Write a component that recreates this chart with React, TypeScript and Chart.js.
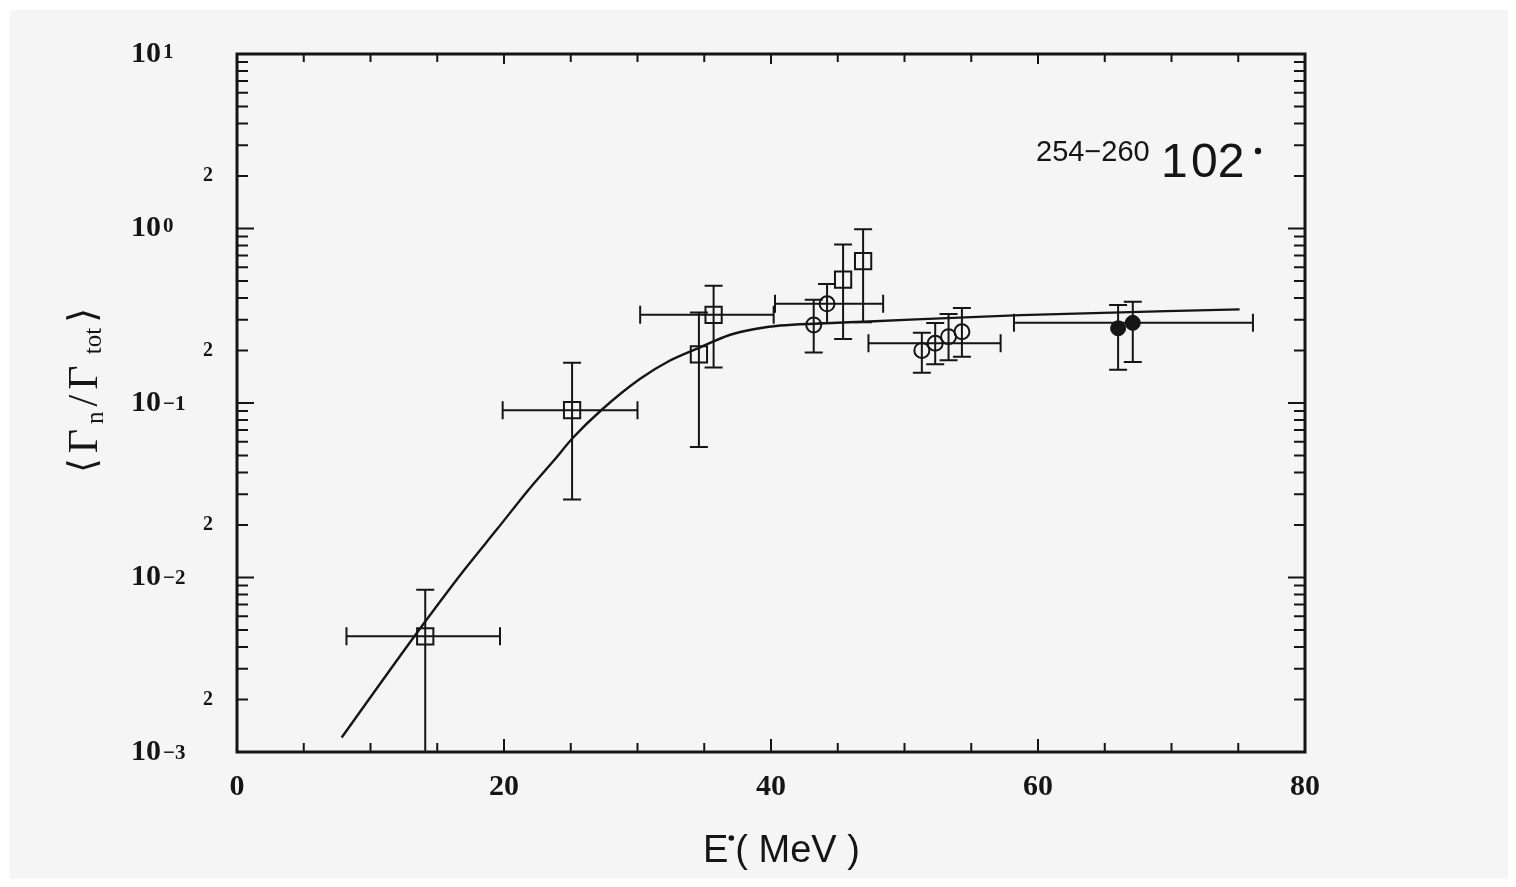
import React, { useEffect, useRef } from 'react';
import { Chart, registerables } from 'chart.js';

Chart.register(...registerables);

// ---------- data ----------
const X_MIN = 0;
const X_MAX = 80;
const Y_MIN = 0.001;
const Y_MAX = 10;

const xTickValues = [0, 20, 40, 60, 80];
const xTickLabels = ['0', '20', '40', '60', '80'];
const xMinorStep = 5;
const yDecadeExps = [-3, -2, -1, 0, 1];
const yDecadeLabels = ['\u22123', '\u22122', '\u22121', '0', '1'];
const yTwoValues = [0.002, 0.02, 0.2, 2];
const yTwoLabels = ['2', '2', '2', '2'];

// open squares
const sqX = [14.1, 25.1, 34.6, 35.7, 45.4, 46.9];
const sqY = [0.0046, 0.091, 0.19, 0.32, 0.51, 0.65];
const sqYLo = [0.001, 0.028, 0.056, 0.16, 0.233, 0.29];
const sqYHi = [0.0085, 0.17, 0.33, 0.47, 0.81, 0.99];
const sqXLo = [8.2, 19.9, null, 30.2, null, null];
const sqXHi = [19.7, 30.0, null, 40.2, null, null];

// open circles
const ocX = [43.2, 44.2, 51.3, 52.3, 53.3, 54.3];
const ocY = [0.28, 0.37, 0.2, 0.22, 0.24, 0.256];
const ocYLo = [0.195, 0.287, 0.149, 0.167, 0.176, 0.184];
const ocYHi = [0.39, 0.48, 0.253, 0.287, 0.324, 0.35];
const ocXLo = [null, 40.3, null, 47.3, null, null];
const ocXHi = [null, 48.4, null, 57.2, null, null];

// filled circles
const fcX = [66.0, 67.1];
const fcY = [0.268, 0.288];
const fcYLo = [0.155, 0.172];
const fcYHi = [0.364, 0.381];
const fcXLo = [null, 58.2];
const fcXHi = [null, 76.1];

// fitted curve
const curveX = [7.84, 13.1, 17.0, 19.5, 21.95, 23.7, 25.2, 27.3, 30.2, 32.4, 34.7, 36.9, 38.8, 40.7, 43.7, 46.9, 58.7, 75.1];
const curveY = [0.00121, 0.0044, 0.011, 0.019, 0.0326, 0.0465, 0.0636, 0.0912, 0.1376, 0.1746, 0.2085, 0.2453, 0.2655, 0.278, 0.2856, 0.2924, 0.319, 0.344];

const INK = '#151515';

const toPts = (xs: number[], ys: number[]) => xs.map((x, i) => ({ x, y: ys[i] }));

const bgPlugin = {
  id: 'bg',
  beforeDraw(chart: any) {
    const { ctx, width, height } = chart;
    ctx.save();
    ctx.fillStyle = '#ffffff';
    ctx.fillRect(0, 0, width, height);
    ctx.fillStyle = '#f5f5f5';
    ctx.fillRect(2, 2, width - 2, height - 2);
    ctx.restore();
  },
};

const errorBarPlugin = {
  id: 'errorBars',
  beforeDatasetsDraw(chart: any) {
    const { ctx } = chart;
    const xs = chart.scales.x;
    const ys = chart.scales.y;
    const cap = 9;
    ctx.save();
    ctx.strokeStyle = INK;
    ctx.lineWidth = 2;
    chart.data.datasets.forEach((ds: any) => {
      const e = ds.err;
      if (!e) return;
      ds.data.forEach((p: any, i: number) => {
        const px = xs.getPixelForValue(p.x);
        const py = ys.getPixelForValue(p.y);
        if (e.yLo[i] != null && e.yHi[i] != null) {
          const y1 = ys.getPixelForValue(e.yLo[i]);
          const y2 = ys.getPixelForValue(e.yHi[i]);
          ctx.beginPath();
          ctx.moveTo(px, y1);
          ctx.lineTo(px, y2);
          ctx.moveTo(px - cap, y2);
          ctx.lineTo(px + cap, y2);
          if (e.yLo[i] > Y_MIN) {
            ctx.moveTo(px - cap, y1);
            ctx.lineTo(px + cap, y1);
          }
          ctx.stroke();
        }
        if (e.xLo[i] != null && e.xHi[i] != null) {
          const x1 = xs.getPixelForValue(e.xLo[i]);
          const x2 = xs.getPixelForValue(e.xHi[i]);
          ctx.beginPath();
          ctx.moveTo(x1, py);
          ctx.lineTo(x2, py);
          ctx.moveTo(x1, py - cap);
          ctx.lineTo(x1, py + cap);
          ctx.moveTo(x2, py - cap);
          ctx.lineTo(x2, py + cap);
          ctx.stroke();
        }
      });
    });
    ctx.restore();
  },
};

const axesPlugin = {
  id: 'axesDecor',
  afterDraw(chart: any) {
    const { ctx, chartArea } = chart;
    const { left, right, top, bottom } = chartArea;
    const xs = chart.scales.x;
    const ys = chart.scales.y;
    ctx.save();
    ctx.strokeStyle = INK;
    ctx.fillStyle = INK;

    // frame
    ctx.lineWidth = 3;
    ctx.strokeRect(left, top, right - left, bottom - top);

    // y ticks (log): left and right, inward
    ctx.lineWidth = 2;
    ctx.beginPath();
    for (let k = -3; k <= 0; k++) {
      for (let m = 1; m <= 9; m++) {
        const v = m * Math.pow(10, k);
        const py = ys.getPixelForValue(v);
        const len = m === 1 ? 17 : 11;
        ctx.moveTo(left, py);
        ctx.lineTo(left + len, py);
        ctx.moveTo(right, py);
        ctx.lineTo(right - len, py);
      }
    }
    // x ticks: bottom and top, inward
    for (let v = X_MIN; v <= X_MAX; v += xMinorStep) {
      const px = xs.getPixelForValue(v);
      const major = v % 20 === 0;
      ctx.moveTo(px, bottom);
      ctx.lineTo(px, bottom - (major ? 13 : 9));
      ctx.moveTo(px, top);
      ctx.lineTo(px, top + (major ? 10 : 8));
    }
    ctx.stroke();

    // y decade labels
    yDecadeExps.forEach((k, i) => {
      const py = ys.getPixelForValue(Math.pow(10, k));
      const x0 = left - 106;
      ctx.font = 'bold 30px "Liberation Serif", serif';
      ctx.textAlign = 'left';
      ctx.textBaseline = 'middle';
      ctx.fillText('10', x0, py);
      const w = ctx.measureText('10').width;
      ctx.font = 'bold 21px "Liberation Serif", serif';
      ctx.textBaseline = 'top';
      ctx.fillText(yDecadeLabels[i], x0 + w + 2, py - (k < 0 ? 9 : 12));
    });
    // "2" labels
    yTwoValues.forEach((v, i) => {
      const py = ys.getPixelForValue(v);
      ctx.font = 'bold 20px "Liberation Serif", serif';
      ctx.textAlign = 'right';
      ctx.textBaseline = 'middle';
      ctx.fillText(yTwoLabels[i], left - 24, py);
    });
    // x labels
    xTickValues.forEach((v, i) => {
      const px = xs.getPixelForValue(v);
      ctx.font = 'bold 30px "Liberation Serif", serif';
      ctx.textAlign = 'center';
      ctx.textBaseline = 'middle';
      ctx.fillText(xTickLabels[i], px, bottom + 35);
    });

    // x title: E•( MeV )
    {
      const tx = 695;
      const base = 854;
      ctx.font = '38px "Liberation Sans", sans-serif';
      ctx.textAlign = 'left';
      ctx.textBaseline = 'alphabetic';
      ctx.fillText('E', tx, base);
      const wE = ctx.measureText('E').width;
      ctx.beginPath();
      ctx.arc(tx + wE + 3, base - 24, 2.8, 0, Math.PI * 2);
      ctx.fill();
      ctx.fillText('( MeV )', tx + wE + 7, base);
    }

    // y title: <Γn/Γ tot>
    {
      ctx.translate(89, 380);
      ctx.rotate(-Math.PI / 2);
      ctx.textAlign = 'left';
      ctx.textBaseline = 'alphabetic';
      const big = '42px "Liberation Serif", serif';
      const brk = '38px "DejaVu Sans", sans-serif';
      const small = '25px "Liberation Serif", serif';
      const parts: [string, string, number][] = [
        ['\u27E8', brk, -2],
        ['\u0393', big, 0],
        ['n', small, 6],
        ['/', big, 0],
        ['\u0393', big, 0],
        [' tot', small, 4],
        ['\u27E9', brk, -2],
      ];
      let total = 0;
      const widths = parts.map(([t, f]) => {
        ctx.font = f;
        const w = ctx.measureText(t).width + 5;
        total += w;
        return w;
      });
      let cx = -total / 2;
      parts.forEach(([t, f, dy], i) => {
        ctx.font = f;
        ctx.fillText(t, cx, dy);
        cx += widths[i];
      });
      ctx.setTransform(1, 0, 0, 1, 0, 0);
    }

    // annotation: 254-260 102*
    {
      ctx.textAlign = 'left';
      ctx.textBaseline = 'alphabetic';
      ctx.font = '29px "Liberation Sans", sans-serif';
      ctx.fillText('254\u2212260', 1028, 153);
      ctx.font = '48px "Liberation Sans", sans-serif';
      ctx.fillText('1', 1153, 169);
      ctx.fillText('02', 1183, 169);
      ctx.beginPath();
      ctx.arc(1250, 143, 3.2, 0, Math.PI * 2);
      ctx.fill();
    }
    ctx.restore();
  },
};

export default function App() {
  const canvasRef = useRef<HTMLCanvasElement | null>(null);

  useEffect(() => {
    if (!canvasRef.current) return;
    const chart = new Chart(canvasRef.current, {
      type: 'scatter',
      data: {
        datasets: [
          {
            type: 'line',
            label: 'fit',
            data: toPts(curveX, curveY),
            borderColor: INK,
            borderWidth: 2.4,
            pointRadius: 0,
            fill: false,
            cubicInterpolationMode: 'monotone',
          } as any,
          {
            label: 'squares',
            data: toPts(sqX, sqY),
            pointStyle: 'rect',
            pointRadius: 11.5,
            borderWidth: 2,
            borderColor: INK,
            backgroundColor: 'rgba(0,0,0,0)',
            err: { xLo: sqXLo, xHi: sqXHi, yLo: sqYLo, yHi: sqYHi },
          } as any,
          {
            label: 'open circles',
            data: toPts(ocX, ocY),
            pointStyle: 'circle',
            pointRadius: 7.5,
            borderWidth: 2,
            borderColor: INK,
            backgroundColor: 'rgba(0,0,0,0)',
            err: { xLo: ocXLo, xHi: ocXHi, yLo: ocYLo, yHi: ocYHi },
          } as any,
          {
            label: 'filled circles',
            data: toPts(fcX, fcY),
            pointStyle: 'circle',
            pointRadius: 7.5,
            borderWidth: 1,
            borderColor: INK,
            backgroundColor: INK,
            err: { xLo: fcXLo, xHi: fcXHi, yLo: fcYLo, yHi: fcYHi },
          } as any,
        ],
      },
      options: {
        animation: false,
        responsive: false,
        devicePixelRatio: 1,
        layout: { padding: { left: 229, right: 203, top: 46, bottom: 127 } },
        plugins: {
          legend: { display: false },
          title: { display: false },
          tooltip: { enabled: false },
        },
        scales: {
          x: { type: 'linear', min: X_MIN, max: X_MAX, display: false },
          y: { type: 'logarithmic', min: Y_MIN, max: Y_MAX, display: false },
        },
      } as any,
      plugins: [bgPlugin, errorBarPlugin, axesPlugin],
    });
    return () => chart.destroy();
  }, []);

  return (
    <div style={{ width: 1500, height: 871 }}>
      <canvas ref={canvasRef} width={1500} height={871} style={{ display: 'block' }} />
    </div>
  );
}
